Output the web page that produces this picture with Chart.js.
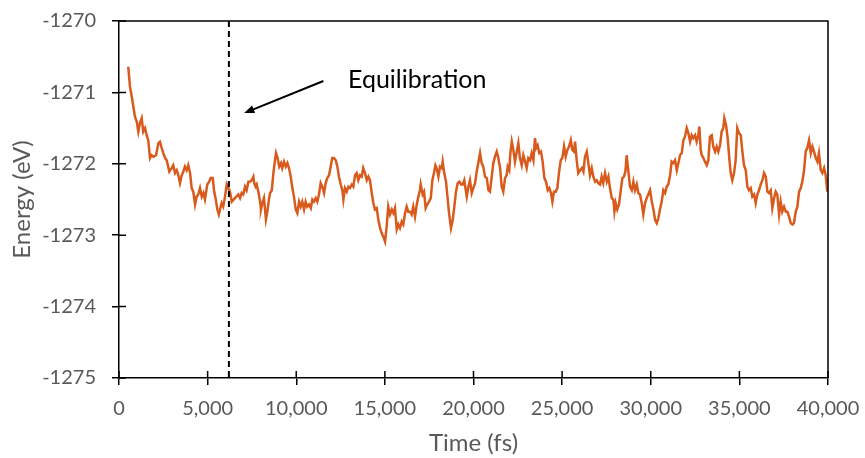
<!DOCTYPE html>
<html>
<head>
<meta charset="utf-8">
<script src="https://cdn.jsdelivr.net/npm/chart.js@4.4.1/dist/chart.umd.min.js"></script>
<style>
  html, body { margin: 0; padding: 0; background: #fff; }
  #wrap { width: 865px; height: 458px; }
</style>
</head>
<body>
<div id="wrap"><canvas id="energyChart" width="865" height="458"></canvas></div>
<script>
// time (fs) and total energy (eV)
let time_fs = [
  520,620,720,810,900,1000,1090,1180,1280,1370,1470,1560,1650,1750,1840,1940,2090,2220,2310,2410,
  2500,2600,2690,2840,2970,3060,3160,3260,3350,3440,3540,3630,3720,3820,3910,4010,4100,4190,4290,4380,
  4470,4570,4670,4760,4850,4980,5090,5170,5290,5360,5460,5550,5630,5700,5790,5880,5980,6080,6170,6260,
  6360,6540,
  6730,6830,6920,7010,7110,7200,7300,7390,7490,7580,7630,7710,7770,7860,7960,8010,8090,8180,8290,8370,
  8460,8520,8620,8710,8800,8860,8950,9040,9140,9210,9310,9410,9500,9590,9690,9780,9870,9970,10060,10160,
  10250,10340,10440,10530,10620,10720,10820,10910,11000,11100,11190,11280,11380,11470,11570,11660,11750,11850,11940,12030,
  12130,12230,12320,12410,12510,12600,12660,12750,12850,12940,13030,
  13130,13220,13320,13410,13500,13600,13690,13780,13880,13980,14070,14160,14260,14350,14440,14540,14630,14730,14820,14910,
  15010,15100,15190,15290,15390,15480,15570,15670,15760,15850,15950,16040,16140,16230,16320,16420,16510,16600,16700,16800,
  16890,16980,17020,17130,17210,17300,17390,17490,17590,17680,17770,17850,17920,18020,18110,18210,18260,18350,18450,18520,
  18620,18730,18830,18920,19010,19110,19200,19300,19390,19480,19620,19710,19800,
  19900,19990,20090,20180,20270,20370,20460,20550,20650,20750,20840,20930,21030,21120,21210,21310,21400,21500,21590,21680,
  21780,21870,21930,22020,22080,22160,22250,22340,22440,22530,22620,22720,22810,22910,23000,23090,23190,23280,23380,23470,
  23530,23620,23710,23810,23900,24000,24090,24190,24280,24370,24450,24540,24640,24730,24820,24920,25010,25110,25200,25290,
  25390,25490,25580,25670,25730,25820,25910,26010,
  26110,26200,26290,26390,26480,26570,26670,26760,26860,26950,27040,27140,27230,27320,27420,27520,27610,27700,27800,27890,
  27950,28020,28110,28210,28310,28400,28490,28570,28640,28730,28830,28930,29020,29110,29210,29300,29390,29490,29580,29680,
  29770,29860,29960,30060,30150,30240,30340,30430,30520,30620,30710,30810,30900,30990,31090,31180,31270,31370,31470,31560,
  31650,31750,31840,31930,32030,32120,32220,32310,32400,32500,32590,32680,32740,32820,
  32880,32970,33060,33160,33250,33340,33440,33530,33630,33720,33810,33910,34000,34090,34150,34250,34340,34430,34510,34600,
  34700,34790,34880,34980,35080,35170,35260,35360,35450,35540,35640,35730,35830,35920,36010,36110,36200,36300,36390,36490,
  36580,36670,36770,36860,36960,37050,37140,37240,37330,37420,37520,37620,37710,37800,37900,37990,38080,38180,38270,38370,
  38460,38550,38650,38740,38830,38930,39030,39120,39210,39310,39400,39490,39590,39680,39780,39870,39960,40000
];

let energy_eV = [
  -1270.64,-1270.92,-1271.06,-1271.20,-1271.34,-1271.41,-1271.55,-1271.43,-1271.36,-1271.55,-1271.50,-1271.60,-1271.67,-1271.92,-1271.88,-1271.90,-1271.88,-1271.71,-1271.69,-1271.78,
  -1271.85,-1271.92,-1271.95,-1272.11,-1272.06,-1272.02,-1272.13,-1272.09,-1272.16,-1272.27,-1272.16,-1272.11,-1272.04,-1272.09,-1272.02,-1272.13,-1272.34,-1272.39,-1272.57,-1272.46,
  -1272.43,-1272.34,-1272.46,-1272.41,-1272.50,-1272.29,-1272.25,-1272.20,-1272.20,-1272.37,-1272.50,-1272.64,-1272.71,-1272.64,-1272.55,-1272.60,-1272.46,-1272.29,-1272.34,-1272.39,
  -1272.53,-1272.48,
  -1272.43,-1272.48,-1272.41,-1272.43,-1272.32,-1272.37,-1272.25,-1272.25,-1272.23,-1272.18,-1272.27,-1272.32,-1272.29,-1272.39,-1272.53,-1272.64,-1272.55,-1272.48,-1272.78,-1272.67,
  -1272.50,-1272.41,-1272.37,-1272.13,-1271.95,-1271.85,-1271.92,-1272.04,-1271.99,-1272.06,-1271.97,-1272.04,-1271.99,-1272.06,-1272.18,-1272.34,-1272.46,-1272.64,-1272.69,-1272.53,
  -1272.60,-1272.53,-1272.64,-1272.53,-1272.60,-1272.57,-1272.62,-1272.50,-1272.53,-1272.48,-1272.53,-1272.43,-1272.27,-1272.32,-1272.41,-1272.27,-1272.20,-1272.16,-1272.04,-1271.92,
  -1271.92,-1271.95,-1272.04,-1272.18,-1272.29,-1272.37,-1272.50,-1272.34,-1272.39,-1272.32,-1272.34,
  -1272.29,-1272.32,-1272.16,-1272.13,-1272.23,-1272.16,-1272.18,-1272.06,-1272.13,-1272.23,-1272.18,-1272.23,-1272.41,-1272.55,-1272.64,-1272.62,-1272.78,-1272.90,-1272.97,-1273.02,
  -1273.09,-1272.88,-1272.60,-1272.71,-1272.64,-1272.69,-1272.62,-1272.92,-1272.85,-1272.90,-1272.81,-1272.85,-1272.69,-1272.60,-1272.67,-1272.67,-1272.71,-1272.60,-1272.74,-1272.57,
  -1272.46,-1272.37,-1272.29,-1272.43,-1272.39,-1272.62,-1272.57,-1272.53,-1272.48,-1272.23,-1272.13,-1272.02,-1272.06,-1272.18,-1272.04,-1272.06,-1271.97,-1272.13,-1272.25,-1272.43,
  -1272.69,-1272.90,-1272.78,-1272.60,-1272.39,-1272.27,-1272.25,-1272.29,-1272.29,-1272.23,-1272.46,-1272.32,-1272.23,
  -1272.41,-1272.34,-1272.27,-1272.11,-1271.99,-1271.85,-1271.99,-1272.04,-1272.18,-1272.20,-1272.37,-1272.39,-1272.18,-1271.99,-1271.90,-1271.83,-1271.92,-1272.06,-1272.32,-1272.39,
  -1272.20,-1272.16,-1272.04,-1272.09,-1271.85,-1271.69,-1271.81,-1271.97,-1271.83,-1271.71,-1271.92,-1272.02,-1271.88,-1271.97,-1272.06,-1271.92,-1271.95,-1271.85,-1271.95,-1271.64,
  -1271.78,-1271.74,-1271.85,-1271.83,-1271.97,-1272.20,-1272.25,-1272.37,-1272.34,-1272.41,-1272.53,-1272.39,-1272.39,-1272.34,-1272.13,-1271.95,-1271.92,-1271.76,-1271.90,-1271.81,
  -1271.76,-1271.67,-1271.81,-1271.83,-1271.69,-1271.95,-1272.13,-1272.09,
  -1272.06,-1272.11,-1271.90,-1271.83,-1271.99,-1272.16,-1272.06,-1272.18,-1272.25,-1272.23,-1272.27,-1272.29,-1272.18,-1272.27,-1272.13,-1272.25,-1272.18,-1272.34,-1272.48,-1272.50,
  -1272.67,-1272.55,-1272.64,-1272.57,-1272.37,-1272.20,-1272.18,-1272.11,-1271.88,-1272.09,-1272.32,-1272.37,-1272.25,-1272.37,-1272.29,-1272.41,-1272.43,-1272.55,-1272.71,-1272.55,
  -1272.48,-1272.43,-1272.37,-1272.53,-1272.64,-1272.78,-1272.83,-1272.76,-1272.64,-1272.53,-1272.37,-1272.41,-1272.32,-1272.29,-1272.16,-1271.97,-1271.99,-1271.95,-1272.09,-1271.99,
  -1271.88,-1271.85,-1271.67,-1271.62,-1271.50,-1271.57,-1271.69,-1271.60,-1271.64,-1271.60,-1271.69,-1271.60,-1271.48,-1271.81,
  -1271.88,-1271.92,-1271.97,-1272.02,-1271.95,-1271.62,-1271.60,-1271.76,-1271.83,-1271.76,-1271.83,-1271.74,-1271.55,-1271.50,-1271.36,-1271.46,-1271.64,-1271.92,-1272.13,-1272.23,
  -1272.13,-1271.95,-1271.50,-1271.57,-1271.60,-1271.83,-1272.02,-1272.09,-1272.32,-1272.37,-1272.34,-1272.46,-1272.43,-1272.55,-1272.43,-1272.37,-1272.29,-1272.23,-1272.13,-1272.18,
  -1272.39,-1272.41,-1272.37,-1272.62,-1272.48,-1272.39,-1272.43,-1272.71,-1272.53,-1272.67,-1272.60,-1272.67,-1272.67,-1272.74,-1272.83,-1272.85,-1272.83,-1272.67,-1272.60,-1272.39,
  -1272.34,-1272.25,-1272.09,-1271.83,-1271.78,-1271.67,-1271.85,-1271.76,-1271.83,-1271.92,-1271.97,-1271.85,-1272.09,-1272.13,-1272.06,-1272.16,-1272.39,-1272.20
];

// axis ranges
let x_min = 0, x_max = 40000, x_step = 5000;
let y_min = -1275, y_max = -1270, y_step = 1;

// equilibration marker + annotation (data units)
let equil_time = 6200;
let label_text = 'Equilibration';
let label_at = [12920, -1270.83];
let arrow_from = [11530, -1270.84];
let arrow_to = [7060, -1271.29];

const grey = '#595959';
const fontFam = 'Lato, "Open Sans", sans-serif';

let pts = time_fs.map((t, i) => ({ x: t, y: energy_eV[i] }));

// top/right frame, inner tick halves, dashed marker and arrow
const extras = {
    id: 'extras',
    afterDraw(chart) {
        const { ctx, chartArea: a, scales: { x, y } } = chart;
        ctx.save();
        ctx.strokeStyle = '#000';
        ctx.lineWidth = 1.5;
        ctx.beginPath();
        ctx.moveTo(a.left, a.top); ctx.lineTo(a.right, a.top); ctx.lineTo(a.right, a.bottom);
        ctx.stroke();

        ctx.beginPath();
        x.ticks.forEach(t => {
            const px = x.getPixelForValue(t.value);
            ctx.moveTo(px, a.bottom); ctx.lineTo(px, a.bottom - 7);
        });
        y.ticks.forEach(t => {
            const py = y.getPixelForValue(t.value);
            ctx.moveTo(a.left, py); ctx.lineTo(a.left + 7, py);
        });
        ctx.stroke();

        // dashed vertical line
        const ex = x.getPixelForValue(equil_time);
        ctx.setLineDash([6, 4]);
        ctx.lineWidth = 2;
        ctx.beginPath();
        ctx.moveTo(ex, a.top); ctx.lineTo(ex, a.bottom);
        ctx.stroke();
        ctx.setLineDash([]);

        // arrow
        const x1 = x.getPixelForValue(arrow_from[0]), y1 = y.getPixelForValue(arrow_from[1]);
        const x2 = x.getPixelForValue(arrow_to[0]), y2 = y.getPixelForValue(arrow_to[1]);
        const ang = Math.atan2(y2 - y1, x2 - x1);
        ctx.lineWidth = 2;
        ctx.beginPath();
        ctx.moveTo(x1, y1);
        ctx.lineTo(x2 - 6 * Math.cos(ang), y2 - 6 * Math.sin(ang));
        ctx.stroke();
        ctx.fillStyle = '#000';
        ctx.beginPath();
        ctx.moveTo(x2, y2);
        ctx.lineTo(x2 - 11 * Math.cos(ang - 0.38), y2 - 11 * Math.sin(ang - 0.38));
        ctx.lineTo(x2 - 11 * Math.cos(ang + 0.38), y2 - 11 * Math.sin(ang + 0.38));
        ctx.closePath();
        ctx.fill();

        // label
        ctx.font = '25px ' + fontFam;
        ctx.textAlign = 'left';
        ctx.textBaseline = 'middle';
        ctx.fillText(label_text, x.getPixelForValue(label_at[0]), y.getPixelForValue(label_at[1]));
        ctx.restore();
    }
};

let ctx = document.getElementById('energyChart').getContext('2d');
let energyChart = new Chart(ctx, {
    type: 'line',
    data: {
        datasets: [{
            label: 'Energy',
            data: pts,
            borderColor: '#D85A1C',
            borderWidth: 2.5,
            pointRadius: 0,
            tension: 0,
            fill: false
        }]
    },
    options: {
        responsive: false,
        animation: false,
        layout: { padding: { top: 21, right: 37, left: 0, bottom: 0 } },
        plugins: {
            legend: { display: false },
            tooltip: { enabled: false }
        },
        scales: {
            x: {
                type: 'linear',
                min: x_min,
                max: x_max,
                afterFit: s => { s.height = 80; s.paddingLeft = 0; s.paddingRight = 0; },
                grid: { drawOnChartArea: false, drawTicks: true, tickLength: 7, color: '#000', lineWidth: 1.5 },
                border: { display: true, color: '#000', width: 1.5 },
                ticks: {
                    stepSize: x_step,
                    color: grey,
                    padding: 12,
                    maxRotation: 0,
                    font: { family: fontFam, size: 20 },
                    callback: v => v.toLocaleString('en-US')
                },
                title: {
                    display: true,
                    text: 'Time (fs)',
                    color: grey,
                    font: { family: fontFam, size: 24 },
                    padding: { top: 4, bottom: 0 }
                }
            },
            y: {
                min: y_min,
                max: y_max,
                afterFit: s => { s.width = 119; s.paddingTop = 0; s.paddingBottom = 0; },
                grid: { drawOnChartArea: false, drawTicks: true, tickLength: 7, color: '#000', lineWidth: 1.5 },
                border: { display: true, color: '#000', width: 1.5 },
                ticks: {
                    stepSize: y_step,
                    color: grey,
                    padding: 16,
                    font: { family: fontFam, size: 20 },
                    callback: v => String(v)
                },
                title: {
                    display: true,
                    text: 'Energy (eV)',
                    color: grey,
                    font: { family: fontFam, size: 24 },
                    padding: { top: 8, bottom: 0 }
                }
            }
        }
    },
    plugins: [extras]
});
</script>
</body>
</html>
